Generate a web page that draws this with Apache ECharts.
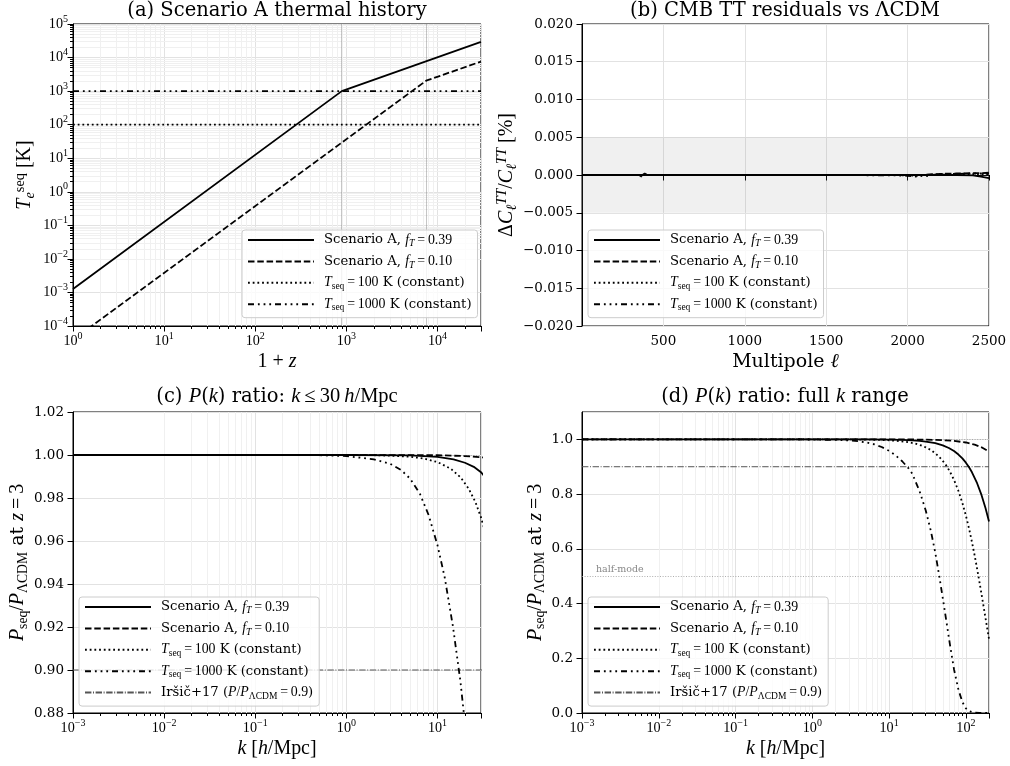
<!DOCTYPE html>
<html>
<head>
	<meta charset="utf-8" />
	<title>Scenario A panels</title>
	<script src="https://cdn.jsdelivr.net/npm/echarts@6/dist/echarts.min.js"></script>
	<style>
		html, body {margin:0;padding:0;background:#fff;}
		#chart {width:1010px;height:766px;}
	</style>
</head>
<body>
	<div id="chart"></div>
	<script>
		// (a) thermal history, T_e^seq vs 1+z
		var zA39 = [1, 890, 30000];
		var tA39 = [1.26e-3, 1000, 2.95e4];
		var zA10 = [1, 7500, 30000];
		var tA10 = [3.9e-5, 2040, 7600];
		var zConst = [1, 30000];
		var tConst100 = [100, 100];
		var tConst1000 = [1000, 1000];
		var zTransition = [870, 7600];

		// (b) CMB TT residuals [%]
		var ell = [2, 300, 350, 365, 375, 385, 400, 450, 800, 1500, 1900, 2000, 2050, 2080, 2100, 2150, 2200, 2300, 2400, 2450, 2500];
		var resA39 = [0, 0, 0, -0.0001, 0.0001, 0.0002, 0, 0, 0, 0, 0, 0, 0, 0, 0, 0, 0, 0, -0.00005, -0.0002, -0.0004];
		var resA10 = [0, 0, 0, 0, 0, 0, 0, 0, 0, 0, 0, 0, 0, 0, 0, 0.0001, 0.00015, 0.0002, 0.00025, 0.00025, 0.0003];
		var res100 = [0, 0, 0, 0, 0, 0, 0, 0, 0, 0, 0, -0.00005, -0.0001, -0.00005, 0, 0, 0.00005, 0.0001, 0.0001, 0.0001, 0.0001];
		var res1000 = [0, 0, 0, -0.0002, -0.0001, 0.0001, 0, 0, 0, 0, -0.00005, -0.0001, -0.0002, -0.0001, -0.0002, 0, 0.0001, 0.00015, 0.0002, 0.0002, 0.0002];
		var cmbBand = [-0.005, 0.005];

		// (c)/(d) P(k) ratio at z=3
		var kA39 = [0.001, 1, 5, 10, 15, 20, 25, 30, 40, 50, 60, 70, 80, 90, 100, 110, 120, 140, 160, 180, 200];
		var pA39 = [1, 1, 0.9998, 0.9991, 0.998, 0.9964, 0.9945, 0.992, 0.9859, 0.978, 0.9684, 0.9573, 0.9446, 0.9304, 0.9148, 0.8978, 0.8797, 0.8398, 0.796, 0.7492, 0.7001];
		var kA10 = [0.001, 1, 10, 20, 30, 40, 50, 70, 100, 130, 160, 200];
		var pA10 = [1, 1, 0.9999, 0.9995, 0.999, 0.9982, 0.9971, 0.9944, 0.9886, 0.9807, 0.971, 0.955];
		var k100 = [0.001, 1, 2, 3, 5, 7, 10, 14, 18, 22, 26, 30, 35, 41, 48, 55, 62, 70, 80, 90, 100, 110, 120, 130, 140, 150, 160, 170, 180, 190, 200];
		var p100 = [1, 1, 0.9999, 0.9997, 0.9992, 0.9984, 0.9967, 0.9936, 0.9895, 0.9843, 0.9782, 0.971, 0.9608, 0.9466, 0.9275, 0.906, 0.882, 0.8521, 0.8114, 0.7677, 0.7213, 0.6737, 0.6246, 0.5758, 0.5273, 0.4795, 0.4336, 0.3893, 0.3472, 0.3077, 0.2708];
		var k1000 = [0.001, 0.1, 0.5, 1, 2, 3, 4, 5, 6.4, 8, 10, 12, 14.8, 17.8, 20, 25, 30, 35, 40, 45, 50, 55, 62, 70, 80, 90, 100, 110, 125, 150, 200];
		var p1000 = [1, 1, 0.9999, 0.9995, 0.998, 0.996, 0.993, 0.989, 0.982, 0.972, 0.958, 0.943, 0.92, 0.895, 0.875, 0.81, 0.74, 0.665, 0.585, 0.5, 0.42, 0.345, 0.25, 0.16, 0.085, 0.04, 0.017, 0.007, 0.002, 0.0003, 0];
		var kFull = [0.001, 200];
		var pIrsic = [0.9, 0.9];
		var halfMode = 0.5;

		var SERIF = 'DejaVu Serif';
		var MATH = 'Liberation Serif';
		var EQ = '\u2009=\u2009';

		var chart = echarts.init(document.getElementById('chart'));

		function rich(size, lh) {
			lh = lh || Math.round(size * 1.4);
			var s = Math.round(size * 0.72 * 10) / 10;
			var ms = size * 1.05;
			return {
				r: {fontFamily: SERIF, fontSize: size, lineHeight: lh, color: '#000'},
				m: {fontFamily: MATH, fontSize: ms, lineHeight: lh, color: '#000'},
				i: {fontFamily: MATH, fontStyle: 'italic', fontSize: ms, lineHeight: lh, color: '#000'},
				sup: {fontFamily: MATH, fontSize: s, lineHeight: s + 1, verticalAlign: 'top', color: '#000'},
				isup: {fontFamily: MATH, fontStyle: 'italic', fontSize: s * 1.05, lineHeight: s + 1, verticalAlign: 'top', color: '#000'},
				msup: {fontFamily: MATH, fontSize: s * 1.05, lineHeight: s + 1, verticalAlign: 'top', color: '#000'},
				sub: {fontFamily: MATH, fontSize: s, lineHeight: lh * 0.75, verticalAlign: 'bottom', color: '#000'},
				isub: {fontFamily: MATH, fontStyle: 'italic', fontSize: s * 1.05, lineHeight: lh * 0.75, verticalAlign: 'bottom', color: '#000'}
			};
		}

		function logLabel(v) {
			var n = Math.log10(v);
			if (Math.abs(n - Math.round(n)) > 1e-6) return '';
			n = Math.round(n);
			return '{m|10}{sup|' + String(n).replace('-', '\u2212') + '}';
		}

		function fixedLabel(d) {
			return function (v) {
				return v.toFixed(d).replace('-', '\u2212');
			};
		}

		// 2..9 x 10^n positions inside [min, max], for minor grid lines
		function minorValues(min, max) {
			var out = [];
			for (var e = Math.floor(Math.log10(min)); e <= Math.ceil(Math.log10(max)); e++) {
				for (var m = 2; m <= 9; m++) {
					var v = m * Math.pow(10, e);
					if (v > min * 1.0001 && v < max * 0.9999) out.push(v);
				}
			}
			return out;
		}

		var STYLES = {
			A39: {color: '#000', width: 1.8, type: 'solid'},
			A10: {color: '#000', width: 1.8, type: [6.5, 2.8]},
			T100: {color: '#000', width: 1.8, type: [1.8, 2.9]},
			T1000: {color: '#000', width: 1.8, type: [6, 3.9, 1.8, 3.9, 1.8, 3.9, 1.8, 3.9]},
			Irsic: {color: '#555', width: 1, type: [6.4, 1.6, 1, 1.6]}
		};

		var LEGEND_TEXT = {
			A39: '{r|Scenario A, }{i|f}{isub|T}{m|' + EQ + '0.39}',
			A10: '{r|Scenario A, }{i|f}{isub|T}{m|' + EQ + '0.10}',
			T100: '{i|T}{sub|seq}{m|' + EQ + '100}{r| K (constant)}',
			T1000: '{i|T}{sub|seq}{m|' + EQ + '1000}{r| K (constant)}',
			Irsic: '{r|Ir\u0161i\u010d+17 (}{i|P}{m|/}{i|P}{sub|\u039bCDM}{m|' + EQ + '0.9}{r|)}'
		};

		function pairs(xs, ys) {
			return xs.map(function (x, i) { return [x, ys[i]]; });
		}

		function line(name, xs, ys, idx, extra) {
			var s = {
				name: name,
				type: 'line',
				xAxisIndex: idx,
				yAxisIndex: idx,
				data: pairs(xs, ys),
				symbol: 'none',
				clip: true,
				lineStyle: STYLES[name],
				itemStyle: {color: STYLES[name].color, opacity: 0},
				emphasis: {disabled: true},
				z: 3
			};
			if (extra) Object.keys(extra).forEach(function (k) { s[k] = extra[k]; });
			return s;
		}

		var minorLine = {color: '#f0f0f0', width: 1, type: 'solid'};
		function minorGridSeries(idx, xs, ys) {
			var data = xs.map(function (v) { return {xAxis: v}; })
				.concat(ys.map(function (v) { return {yAxis: v}; }));
			return {
				name: 'minor', type: 'line', xAxisIndex: idx, yAxisIndex: idx, data: [],
				z: 1, silent: true,
				markLine: {z: 0, silent: true, symbol: 'none', label: {show: false}, lineStyle: minorLine, animation: false, data: data}
			};
		}

		var grids = [
			{left: 73, top: 24, width: 408, height: 302},
			{left: 582, top: 24, width: 407, height: 302},
			{left: 73, top: 412, width: 408, height: 301},
			{left: 582, top: 412, width: 407, height: 301}
		].map(function (g) {
			g.show = true;
			g.borderColor = '#000';
			g.borderWidth = 1;
			g.backgroundColor = 'transparent';
			return g;
		});

		var tickRich = rich(13.5, 20);
		tickRich.sup = {fontFamily: MATH, fontSize: 10, lineHeight: 10, verticalAlign: 'top', color: '#000'};
		var tickLabel = {fontFamily: SERIF, fontSize: 13.5, color: '#000', lineHeight: 20, rich: tickRich};
		var axisLine = {show: true, lineStyle: {color: '#000', width: 1}};
		var axisTick = {show: true, length: 5.5, lineStyle: {color: '#000'}};
		var majorGrid = {show: true, lineStyle: {color: '#e2e2e2', width: 1}};
		var nameStyle = {fontFamily: SERIF, fontSize: 19, color: '#000', rich: rich(19, 24)};

		function logAxis(idx, min, max, name, gap) {
			return {
				type: 'log', logBase: 10, gridIndex: idx, min: min, max: max,
				axisLine: axisLine, axisTick: axisTick,
				minorTick: {show: true, splitNumber: 9, length: 3, lineStyle: {color: '#000'}},
				axisLabel: Object.assign({formatter: logLabel, margin: 5}, tickLabel),
				splitLine: majorGrid,
				minorSplitLine: {show: false},
				name: name, nameLocation: 'middle', nameGap: gap, nameTextStyle: nameStyle
			};
		}

		function valAxis(idx, min, max, interval, digits, name, gap, extra) {
			var a = {
				type: 'value', gridIndex: idx, min: min, max: max, interval: interval,
				axisLine: axisLine, axisTick: axisTick,
				axisLabel: Object.assign({formatter: fixedLabel(digits), margin: 9}, tickLabel),
				splitLine: majorGrid,
				name: name, nameLocation: 'middle', nameGap: gap, nameTextStyle: nameStyle
			};
			if (extra) Object.keys(extra).forEach(function (k) { a[k] = extra[k]; });
			return a;
		}

		var kName = '{i|k}{m| [}{i|h}{m|/Mpc]}';
		var pName = '{i|P}{sub|seq}{m|/}{i|P}{sub|\u039bCDM}{r| at }{i|z}{m|' + EQ + '3}';

		var xAxes = [
			logAxis(0, 1, 30000, '{m|1 + }{i|z}', 18),
			valAxis(1, 0, 2500, 500, 0, '{r|Multipole }{i|\u2113}', 18, {axisLabel: Object.assign({formatter: fixedLabel(0), margin: 5, showMinLabel: false}, tickLabel)}),
			logAxis(2, 0.001, 30, kName, 18),
			logAxis(3, 0.001, 200, kName, 18)
		];
		var yAxes = [
			logAxis(0, 1e-4, 1e5, '{i|T}{isub|e}{msup|seq}{m| [K]}', 36),
			valAxis(1, -0.02, 0.02, 0.005, 3, '{m|\u0394}{i|C}{isub|\u2113}{isup|TT}{m|/}{i|C}{isub|\u2113}{isup|TT}{m| [%]}', 58),
			valAxis(2, 0.88, 1.02, 0.02, 2, pName, 40),
			valAxis(3, 0, 1.1, 0.2, 1, pName, 32, {axisLabel: Object.assign({formatter: fixedLabel(1), margin: 9, showMaxLabel: false}, tickLabel)})
		];

		var refLine = {color: '#999', width: 0.8, type: [1, 1.6]};

		var series = [
			// minor grid lines on the log axes
			minorGridSeries(0, minorValues(1, 30000), minorValues(1e-4, 1e5)),
			minorGridSeries(2, minorValues(0.001, 30), []),
			minorGridSeries(3, minorValues(0.001, 200), []),
			// (a)
			line('A39', zA39, tA39, 0, {markLine: {
				z: 2, silent: true, symbol: 'none', label: {show: false},
				lineStyle: {color: 'rgba(128,128,128,0.45)', width: 1, type: 'solid'},
				data: zTransition.map(function (z) { return {xAxis: z}; })
			}}),
			line('A10', zA10, tA10, 0),
			line('T100', zConst, tConst100, 0),
			line('T1000', zConst, tConst1000, 0),
			// (b)
			line('A39', ell, resA39, 1, {markArea: {
				z: 1, silent: true,
				itemStyle: {color: 'rgba(128,128,128,0.12)'},
				data: [[{yAxis: cmbBand[0]}, {yAxis: cmbBand[1]}]]
			}}),
			line('A10', ell, resA10, 1),
			line('T100', ell, res100, 1),
			line('T1000', ell, res1000, 1),
			// (c)
			line('A39', kA39, pA39, 2, {markLine: {
				z: 2, silent: true, symbol: 'none', label: {show: false}, lineStyle: refLine,
				data: [{yAxis: 1}]
			}}),
			line('A10', kA10, pA10, 2),
			line('T100', k100, p100, 2),
			line('T1000', k1000, p1000, 2),
			line('Irsic', kFull, pIrsic, 2, {z: 2}),
			// (d)
			line('A39', kA39, pA39, 3, {markLine: {
				z: 2, silent: true, symbol: 'none', lineStyle: refLine,
				label: {show: false},
				data: [
					{yAxis: 1},
					{yAxis: halfMode, label: {show: true, position: 'insideStartTop', formatter: 'half-mode', fontFamily: SERIF, fontSize: 9.5, color: '#888', distance: [14, 2]}}
				]
			}}),
			line('A10', kA10, pA10, 3),
			line('T100', k100, p100, 3),
			line('T1000', k1000, p1000, 3),
			line('Irsic', kFull, pIrsic, 3, {z: 2})
		];

		function legend(left, top, names) {
			return {
				orient: 'vertical', left: left, top: top, z: 10,
				data: names,
				itemWidth: 66, itemHeight: 14, itemGap: 5.9,
				padding: [3, 6, 5, 5],
				backgroundColor: 'rgba(255,255,255,0.8)',
				borderColor: '#cccccc', borderWidth: 1, borderRadius: 3,
				selectedMode: false,
				itemStyle: {opacity: 0},
				formatter: function (n) { return LEGEND_TEXT[n]; },
				textStyle: {fontFamily: SERIF, fontSize: 13.2, color: '#000', padding: [0, 0, 0, 5], rich: rich(13.2, 17)}
			};
		}

		var base4 = ['A39', 'A10', 'T100', 'T1000'];
		var base5 = ['A39', 'A10', 'T100', 'T1000', 'Irsic'];

		var titleRich = rich(19.5, 24);
		function title(x, y, text) {
			return {
				type: 'text', x: x, y: y, silent: true,
				style: {text: text, rich: titleRich, align: 'center', textAlign: 'center', verticalAlign: 'top', textVerticalAlign: 'top', fontFamily: SERIF, fontSize: 19.5, fill: '#000'}
			};
		}

		chart.setOption({
			animation: false,
			grid: grids,
			xAxis: xAxes,
			yAxis: yAxes,
			legend: [
				legend(242, 230, base4),
				legend(588, 230, base4),
				legend(79, 597, base5),
				legend(588, 597, base5)
			],
			graphic: [
				title(277, -1, '{r|(a) Scenario A thermal history}'),
				title(785, -1, '{r|(b) CMB TT residuals vs \u039bCDM}'),
				title(277, 385, '{r|(c) }{i|P}{r|(}{i|k}{r|) ratio: }{i|k}{m|\u2009\u2264\u200930\u2009}{i|h}{m|/Mpc}'),
				title(785, 385, '{r|(d) }{i|P}{r|(}{i|k}{r|) ratio: full }{i|k}{r| range}')
			],
			series: series
		});
	</script>
</body>
</html>
